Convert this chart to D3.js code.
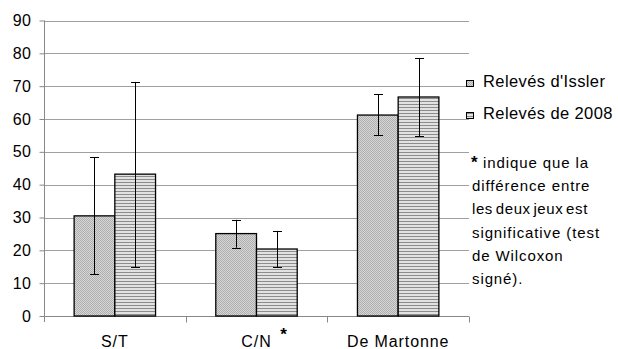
<!DOCTYPE html>
<html>
<head>
<meta charset="utf-8">
<script src="https://cdn.jsdelivr.net/npm/d3@7"></script>
<style>
  body { margin: 0; background: #fff; }
  text { font-family: "Liberation Sans", Arial, sans-serif; fill: #000; }
</style>
</head>
<body>
<div id="chart"></div>
<script>
const categories = ['S/T', 'C/N', 'De Martonne'];
const seriesNames = ["Relevés d'Issler", 'Relevés de 2008'];
const issler = [30.5, 25.1, 61.2];
const isslerLow = [12.7, 20.8, 55.0];
const isslerHigh = [48.3, 29.3, 67.5];
const releves2008 = [43.2, 20.4, 66.7];
const low2008 = [14.8, 14.8, 54.8];
const high2008 = [71.3, 25.9, 78.5];
const yTicks = [0, 10, 20, 30, 40, 50, 60, 70, 80, 90];
const noteLines = ['indique que la', 'différence entre', 'les deux jeux est', 'significative (test', 'de Wilcoxon', 'signé).'];

const width = 618, height = 349;
const margin = { top: 20.5, right: 149, bottom: 33, left: 44 };

const svg = d3.select('#chart').append('svg')
    .attr('width', width)
    .attr('height', height);

const defs = svg.append('defs');
const p1 = defs.append('pattern')
    .attr('id', 'pIssler').attr('patternUnits', 'userSpaceOnUse')
    .attr('width', 2).attr('height', 2);
p1.append('rect').attr('width', 2).attr('height', 2).attr('fill', '#d6d6d6');
p1.append('rect').attr('width', 1).attr('height', 1).attr('fill', '#afafaf');
p1.append('rect').attr('x', 1).attr('y', 1).attr('width', 1).attr('height', 1).attr('fill', '#afafaf');

const p2 = defs.append('pattern')
    .attr('id', 'p2008').attr('patternUnits', 'userSpaceOnUse')
    .attr('width', 3).attr('height', 3);
p2.append('rect').attr('width', 3).attr('height', 3).attr('fill', '#e2e2e2');
p2.append('rect').attr('y', 2).attr('width', 3).attr('height', 1).attr('fill', '#8c8c8c');

const x = d3.scaleBand()
    .domain(categories)
    .range([margin.left, width - margin.right])
    .paddingInner(0)
    .paddingOuter(0);

const inner = d3.scaleBand()
    .domain([0, 1])
    .range([0, x.bandwidth()])
    .paddingOuter(0.74)
    .paddingInner(0);

const y = d3.scaleLinear()
    .domain([0, 90])
    .range([height - margin.bottom, margin.top]);

// grid
svg.append('g')
    .selectAll('line')
    .data(yTicks.slice(1))
    .enter().append('line')
    .attr('x1', margin.left).attr('x2', width - margin.right)
    .attr('y1', d => Math.round(y(d)) + 0.5).attr('y2', d => Math.round(y(d)) + 0.5)
    .attr('stroke', '#a0a0a0').attr('stroke-width', 1);

// y axis
const yAxis = svg.append('g')
    .attr('transform', `translate(${margin.left + 0.5},0)`)
    .call(d3.axisLeft(y).tickValues(yTicks).tickSize(5).tickPadding(8).tickSizeOuter(0));
yAxis.select('.domain').attr('stroke', '#888').attr('d', `M0,${y(90)}V${y(0) + 6}`);
yAxis.selectAll('.tick line').attr('stroke', '#888');
yAxis.selectAll('.tick text')
    .style('font-family', '"Liberation Sans", Arial, sans-serif')
    .style('font-size', '16px').style('letter-spacing', '0.5px').attr('fill', '#000');

// x axis
const xAxis = svg.append('g')
    .attr('transform', `translate(0,${Math.round(y(0)) + 0.5})`);
xAxis.append('line')
    .attr('x1', margin.left).attr('x2', width - margin.right)
    .attr('stroke', '#888');
xAxis.selectAll('.sep')
    .data(categories)
    .enter().append('line')
    .attr('class', 'sep')
    .attr('x1', d => Math.round(x(d) + x.bandwidth()) + 0.5)
    .attr('x2', d => Math.round(x(d) + x.bandwidth()) + 0.5)
    .attr('y1', 0).attr('y2', 6)
    .attr('stroke', '#888');
xAxis.selectAll('.lab')
    .data(categories)
    .enter().append('text')
    .attr('class', 'lab')
    .attr('x', d => x(d) + x.bandwidth() / 2)
    .attr('y', 30)
    .attr('text-anchor', 'middle')
    .style('font-size', '16px')
    .style('letter-spacing', '0.9px')
    .text(d => d);
xAxis.append('text')
    .attr('x', x('C/N') + x.bandwidth() / 2 + 27)
    .attr('y', 23)
    .attr('text-anchor', 'middle')
    .style('font-size', '17px')
    .style('font-weight', 'bold')
    .text('*');

// bars
const series = [
    { name: seriesNames[0], values: issler, lo: isslerLow, hi: isslerHigh, fill: 'url(#pIssler)' },
    { name: seriesNames[1], values: releves2008, lo: low2008, hi: high2008, fill: 'url(#p2008)' }
];

series.forEach((s, si) => {
    const g = svg.append('g');
    g.selectAll('rect')
        .data(categories)
        .enter().append('rect')
        .attr('x', d => x(d) + inner(si))
        .attr('width', inner.bandwidth())
        .attr('y', (d, i) => y(s.values[i]))
        .attr('height', (d, i) => y(0) - y(s.values[i]))
        .attr('fill', s.fill)
        .attr('stroke', '#000')
        .attr('stroke-width', 1.3);
});

// error bars
series.forEach((s, si) => {
    const g = svg.append('g').attr('stroke', '#000').attr('stroke-width', 1);
    categories.forEach((c, i) => {
        const cx = Math.round(x(c) + inner(si) + inner.bandwidth() / 2) + 0.5;
        g.append('line').attr('x1', cx).attr('x2', cx)
            .attr('y1', y(s.lo[i])).attr('y2', y(s.hi[i]));
        [s.lo[i], s.hi[i]].forEach(v => {
            g.append('line').attr('x1', cx - 4.5).attr('x2', cx + 4.5)
                .attr('y1', Math.round(y(v)) + 0.5).attr('y2', Math.round(y(v)) + 0.5);
        });
    });
});

// legend
const legend = svg.append('g');
series.forEach((s, si) => {
    const ly = 87 + si * 32;
    legend.append('rect')
        .attr('x', 466.5).attr('y', ly - 6.5)
        .attr('width', 7).attr('height', 6)
        .attr('fill', s.fill).attr('stroke', '#000').attr('stroke-width', 1);
    legend.append('text')
        .attr('x', 483).attr('y', ly)
        .style('font-size', '16.5px')
        .style('letter-spacing', '0.4px')
        .text(s.name);
});

// note
const note = svg.append('g');
note.append('text')
    .attr('x', 471).attr('y', 168)
    .style('font-size', '17px').style('font-weight', 'bold')
    .text('*');
noteLines.forEach((t, i) => {
    note.append('text')
        .attr('x', i === 0 ? 483 : 472)
        .attr('y', 168 + i * 23.2)
        .style('font-size', '15px')
        .style('letter-spacing', i === 2 ? '0.6px' : '0.9px')
        .attr('word-spacing', i === 2 ? '-2px' : '0')
        .text(t);
});
</script>
</body>
</html>
